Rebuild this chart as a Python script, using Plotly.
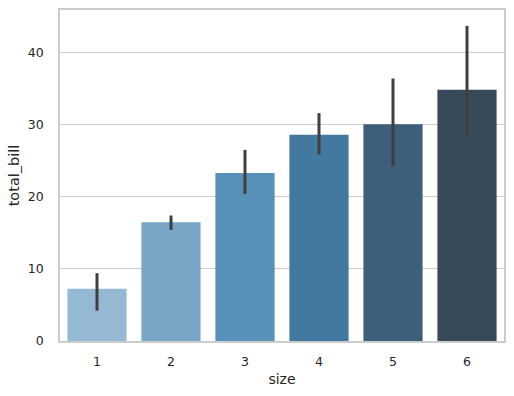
import plotly.graph_objects as go

sizes = ["1", "2", "3", "4", "5", "6"]
mean_bill = [7.24, 16.45, 23.28, 28.61, 30.07, 34.83]
ci_low = [4.2, 15.4, 20.4, 25.9, 24.2, 28.4]
ci_high = [9.4, 17.4, 26.5, 31.6, 36.4, 43.7]
colors = ["#95b9d3", "#77a6c7", "#5990b8", "#44799f", "#3e5f7a", "#384a59"]

err_plus = [h - m for h, m in zip(ci_high, mean_bill)]
err_minus = [m - l for m, l in zip(mean_bill, ci_low)]

fig = go.Figure(go.Bar(
    x=sizes, y=mean_bill,
    marker=dict(color=colors, line=dict(width=0)),
    width=0.8,
    hoverinfo="skip",
    error_y=dict(type="data", symmetric=False, array=err_plus, arrayminus=err_minus,
                 color="#3f3f3f", thickness=3, width=0),
))

font = dict(family="DejaVu Sans", color="#262626")
fig.update_layout(
    width=514, height=396,
    margin=dict(l=60, r=8, t=8, b=55),
    plot_bgcolor="white", paper_bgcolor="white",
    font=font, showlegend=False,
    xaxis=dict(
        title=dict(text="size", font=dict(size=14), standoff=6),
        tickfont=dict(size=12.5),
        range=[-0.5, 5.5], showgrid=False,
        showline=True, mirror=True, linecolor="#cccccc", linewidth=1.5,
        ticks="", ticklabelstandoff=8,
    ),
    yaxis=dict(
        title=dict(text="total_bill", font=dict(size=14.5), standoff=5),
        tickfont=dict(size=12.5),
        range=[0, 45.9], tickvals=[0, 10, 20, 30, 40],
        showgrid=True, gridcolor="#cccccc", gridwidth=1,
        zeroline=False,
        showline=True, mirror=True, linecolor="#cccccc", linewidth=1.5,
        ticks="", ticklabelstandoff=12,
    ),
)
fig.write_html("out.html", config={"displayModeBar": False},
               post_script="document.body.style.margin='0';document.body.style.overflow='hidden';")
